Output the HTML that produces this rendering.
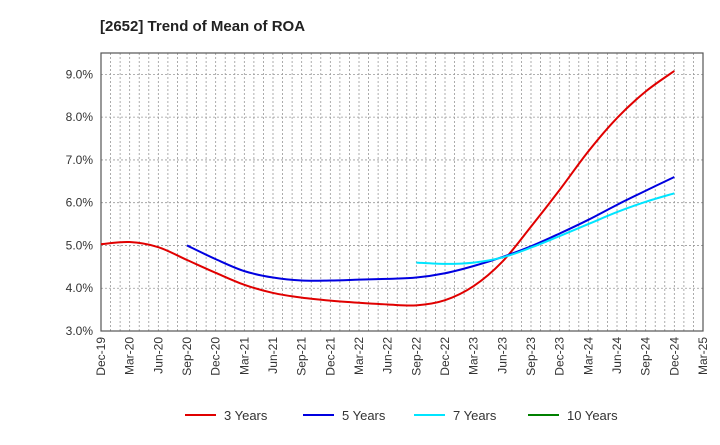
<!DOCTYPE html>
<html><head><meta charset="utf-8"><style>
body{margin:0;background:#fff;font-family:"Liberation Sans",Arial,sans-serif}
svg text{font-family:"Liberation Sans",Arial,sans-serif}
</style></head><body>
<svg id="c" width="720" height="440">
<text x="100" y="31" font-size="15" font-weight="bold" fill="#222">[2652]  Trend of Mean of ROA</text>
<g id="grid"></g><g id="axes"></g><g id="series"></g><g id="legend"></g>
</svg>
<script>
const categories=["Dec-19","Mar-20","Jun-20","Sep-20","Dec-20","Mar-21","Jun-21","Sep-21","Dec-21","Mar-22","Jun-22","Sep-22","Dec-22","Mar-23","Jun-23","Sep-23","Dec-23","Mar-24","Jun-24","Sep-24","Dec-24","Mar-25"];
const yTicks=[3,4,5,6,7,8,9];
const s3=[5.03,5.08,4.96,4.66,4.36,4.08,3.89,3.78,3.71,3.66,3.62,3.60,3.72,4.05,4.62,5.44,6.30,7.20,7.98,8.60,9.08];
const s5=[null,null,null,5.0,4.68,4.40,4.25,4.18,4.18,4.20,4.22,4.25,4.35,4.52,4.73,4.98,5.28,5.60,5.95,6.28,6.60];
const s7=[null,null,null,null,null,null,null,null,null,null,null,4.60,4.57,4.60,4.72,4.95,5.22,5.50,5.78,6.02,6.22];
const s10=[];
const L=101,R=703,T=53,B=331,ymin=3,ymax=9.5;
const NS="http://www.w3.org/2000/svg";
const xs=i=>L+(R-L)*i/(categories.length-1);
const ys=v=>B-(B-T)*(v-ymin)/(ymax-ymin);
function mk(t,a,p){const e=document.createElementNS(NS,t);for(const k in a)e.setAttribute(k,a[k]);p.appendChild(e);return e;}
const grid=document.getElementById('grid'),axes=document.getElementById('axes'),ser=document.getElementById('series'),leg=document.getElementById('legend');
for(let m=1;m<(categories.length-1)*3;m++){const x=L+(R-L)*m/((categories.length-1)*3);
const g=mk('line',{x1:x,x2:x,y1:T,y2:B,stroke:'#999','stroke-dasharray':'2,2','stroke-width':0.8},grid);
}
yTicks.forEach(v=>{const y=ys(v);
if(v>ymin){const g=mk('line',{x1:L,x2:R,y1:y,y2:y,stroke:'#999','stroke-dasharray':'2,2','stroke-width':0.8},grid);
}
const t=mk('text',{x:L-8,y:y+4,'text-anchor':'end','font-size':12,fill:'#333'},axes);t.textContent=v.toFixed(1)+'%';
});
const fr=mk('rect',{x:L,y:T,width:R-L,height:B-T,fill:'none',stroke:'#555','stroke-width':1.2},axes);

categories.forEach((c,i)=>{const x=xs(i);const t=mk('text',{transform:`translate(${x+4},${B+6}) rotate(-90)`,'text-anchor':'end','font-size':12,fill:'#333'},axes);t.textContent=c;
});
function path(arr){const p=[];arr.forEach((v,i)=>{if(v!=null)p.push([xs(i),ys(v)]);});if(p.length<2)return'';
let d=`M${p[0][0]},${p[0][1]}`;for(let i=0;i<p.length-1;i++){const p0=p[i-1]||p[i],p1=p[i],p2=p[i+1],p3=p[i+2]||p2;
d+=`C${p1[0]+(p2[0]-p0[0])/6},${p1[1]+(p2[1]-p0[1])/6} ${p2[0]-(p3[0]-p1[0])/6},${p2[1]-(p3[1]-p1[1])/6} ${p2[0]},${p2[1]}`;}return d;}
const defs=[[s3,'#e00000','3 Years','series-3-years'],[s5,'#0000e0','5 Years','series-5-years'],[s7,'#00e5ff','7 Years','series-7-years'],[s10,'#008000','10 Years','series-10-years']];
const lx=[185,303,414,528];
defs.forEach((d,k)=>{const dd=path(d[0]);if(dd){const e=mk('path',{d:dd,fill:'none',stroke:d[1],'stroke-width':2},ser);
}
const g=mk('g',{},leg);
mk('line',{x1:lx[k],x2:lx[k]+31,y1:415,y2:415,stroke:d[1],'stroke-width':2},g);
const t=mk('text',{x:lx[k]+39,y:420,'font-size':13,fill:'#333'},g);t.textContent=d[2];});
</script>
</body></html>
